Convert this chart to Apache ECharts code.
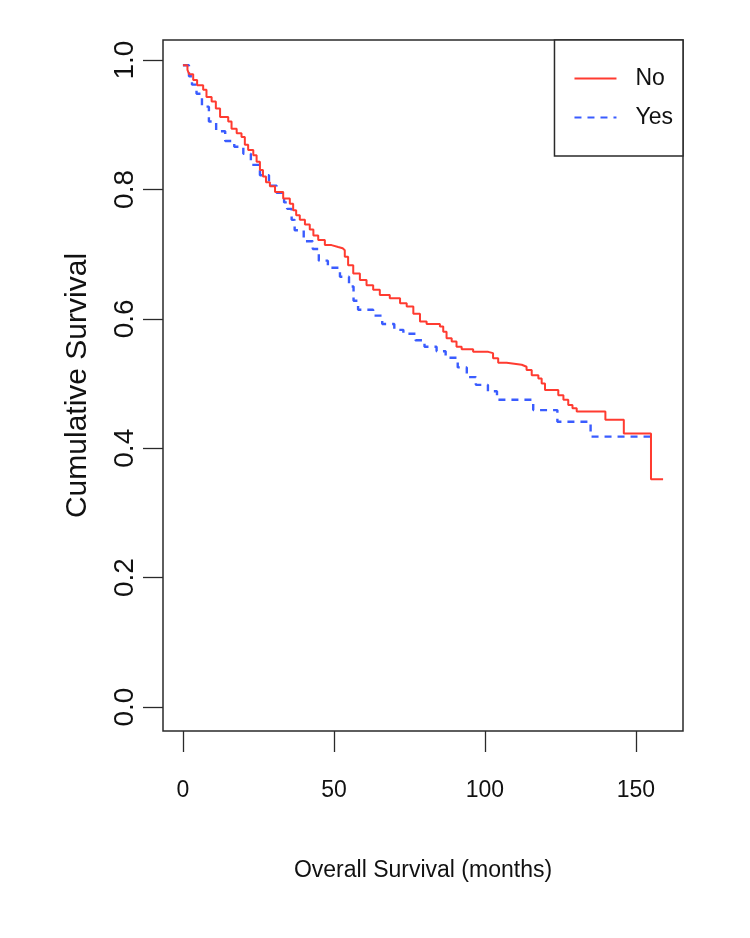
<!DOCTYPE html>
<html>
<head>
<meta charset="utf-8">
<script src="https://cdn.jsdelivr.net/npm/echarts@6/dist/echarts.min.js"></script>
<style>
html,body{margin:0;padding:0;background:#fff;}
#chart{width:750px;height:938px;}
</style>
</head>
<body>
<div id="chart"></div>
<script>
// Kaplan-Meier step curves: time (months) at which survival drops, and survival after the drop
const timeNo = [0,1.5,2.1,3.4,4.7,6.7,7.8,9.5,10.9,12.3,15,16.1,17.8,19.4,20.5,21.6,23.3,24.4,25.5,26.5,27.5,28.8,30.5,33.2,35.4,36.5,37.5,38.7,40.4,42,43.2,44.8,47,49.2,51.4,52.9,53.6,54.7,56.4,58.6,60.8,63,65.2,68.5,71.9,74.1,76.3,78.5,80.7,85.1,86.2,87.3,89,90.6,92.3,96.1,101.1,102.7,104.4,107.2,112.2,113.8,115.5,117.7,118.8,119.9,124.3,126,127.6,129,130.4,139.9,146,155,159];
const survNo = [0.992,0.985,0.978,0.969,0.961,0.954,0.943,0.936,0.925,0.912,0.905,0.894,0.887,0.881,0.869,0.861,0.853,0.843,0.830,0.820,0.811,0.805,0.796,0.786,0.778,0.768,0.760,0.753,0.746,0.738,0.729,0.722,0.714,0.711,0.709,0.706,0.696,0.683,0.670,0.660,0.652,0.645,0.637,0.632,0.624,0.619,0.608,0.596,0.592,0.588,0.580,0.570,0.565,0.557,0.553,0.549,0.547,0.539,0.532,0.529,0.526,0.521,0.513,0.508,0.500,0.490,0.482,0.475,0.467,0.462,0.457,0.444,0.423,0.352,0.352];

const timeYes = [0,2.0,3,4.5,6.3,8.6,11,14,17,20,22.5,25.5,28.5,31,33.5,34.5,36,37,40,43,45,48,52,55,56.5,58,63,66,70,73,77,80,84,87,91,94,97,101,104,116,124,135,156.3];
const survYes = [0.992,0.975,0.962,0.948,0.928,0.905,0.890,0.875,0.866,0.855,0.838,0.822,0.806,0.795,0.780,0.770,0.753,0.737,0.720,0.708,0.690,0.679,0.665,0.650,0.628,0.614,0.605,0.592,0.583,0.577,0.567,0.557,0.550,0.540,0.525,0.510,0.498,0.488,0.475,0.459,0.441,0.418,0.418];

const groupNames = ['No', 'Yes'];
const xTicks = [0, 50, 100, 150];
const yTicks = [0, 0.2, 0.4, 0.6, 0.8, 1.0];
const xTitle = 'Overall Survival (months)';
const yTitle = 'Cumulative Survival';

const FONT = '"Liberation Sans", Arial, Helvetica, sans-serif';
const INK = '#111';
const FRAME = '#2a2a2a';

const pairs = (t, s) => t.map((v, i) => [v, s[i]]);

const chart = echarts.init(document.getElementById('chart'), null, {renderer: 'canvas'});
chart.setOption({
  animation: false,
  backgroundColor: '#fff',
  textStyle: {fontFamily: FONT},
  grid: {
    left: 163, right: 67, top: 40, bottom: 207,
    show: true, borderColor: FRAME, borderWidth: 1.5, backgroundColor: 'transparent'
  },
  legend: {
    orient: 'vertical',
    right: 67, top: 40,
    data: groupNames,
    itemWidth: 42, itemHeight: 14, itemGap: 16,
    padding: [27, 10, 27, 19],
    borderColor: FRAME, borderWidth: 1.5,
    backgroundColor: '#fff',
    itemStyle: {color: 'transparent', borderWidth: 0, opacity: 0},
    textStyle: {fontFamily: FONT, fontSize: 23, color: INK, padding: [0, 0, 0, 14]}
  },
  xAxis: {
    type: 'value', min: -6.6, max: 165.6,
    axisLine: {show: false, onZero: false},
    splitLine: {show: false},
    axisTick: {show: true, inside: false, length: 21, customValues: xTicks, lineStyle: {color: FRAME, width: 1.3}},
    axisLabel: {customValues: xTicks, margin: 48, fontFamily: FONT, fontSize: 23, color: INK,
      formatter: v => String(v)},
    name: xTitle, nameLocation: 'middle', nameGap: 128,
    nameTextStyle: {fontFamily: FONT, fontSize: 23, color: INK}
  },
  yAxis: {
    type: 'value', min: -0.037, max: 1.031,
    axisLine: {show: false, onZero: false},
    splitLine: {show: false},
    axisTick: {show: true, inside: false, length: 20, customValues: yTicks, lineStyle: {color: FRAME, width: 1.3}},
    axisLabel: {customValues: yTicks, margin: 24, rotate: 90, fontFamily: FONT, fontSize: 28, color: INK,
      formatter: v => v.toFixed(1)},
    name: yTitle, nameLocation: 'middle', nameGap: 70, nameRotate: 90,
    nameTextStyle: {fontFamily: FONT, fontSize: 30, color: INK}
  },
  series: [
    {
      name: groupNames[0], type: 'line', step: 'end', showSymbol: false, symbol: 'none',
      data: pairs(timeNo, survNo),
      lineStyle: {color: '#ff3b30', width: 2},
      itemStyle: {color: '#ff3b30'},
      z: 3
    },
    {
      name: groupNames[1], type: 'line', step: 'end', showSymbol: false, symbol: 'none',
      data: pairs(timeYes, survYes),
      lineStyle: {color: '#3a5cff', width: 2.4, type: [7, 6]},
      itemStyle: {color: '#3a5cff'},
      z: 2
    }
  ]
});
</script>
</body>
</html>
